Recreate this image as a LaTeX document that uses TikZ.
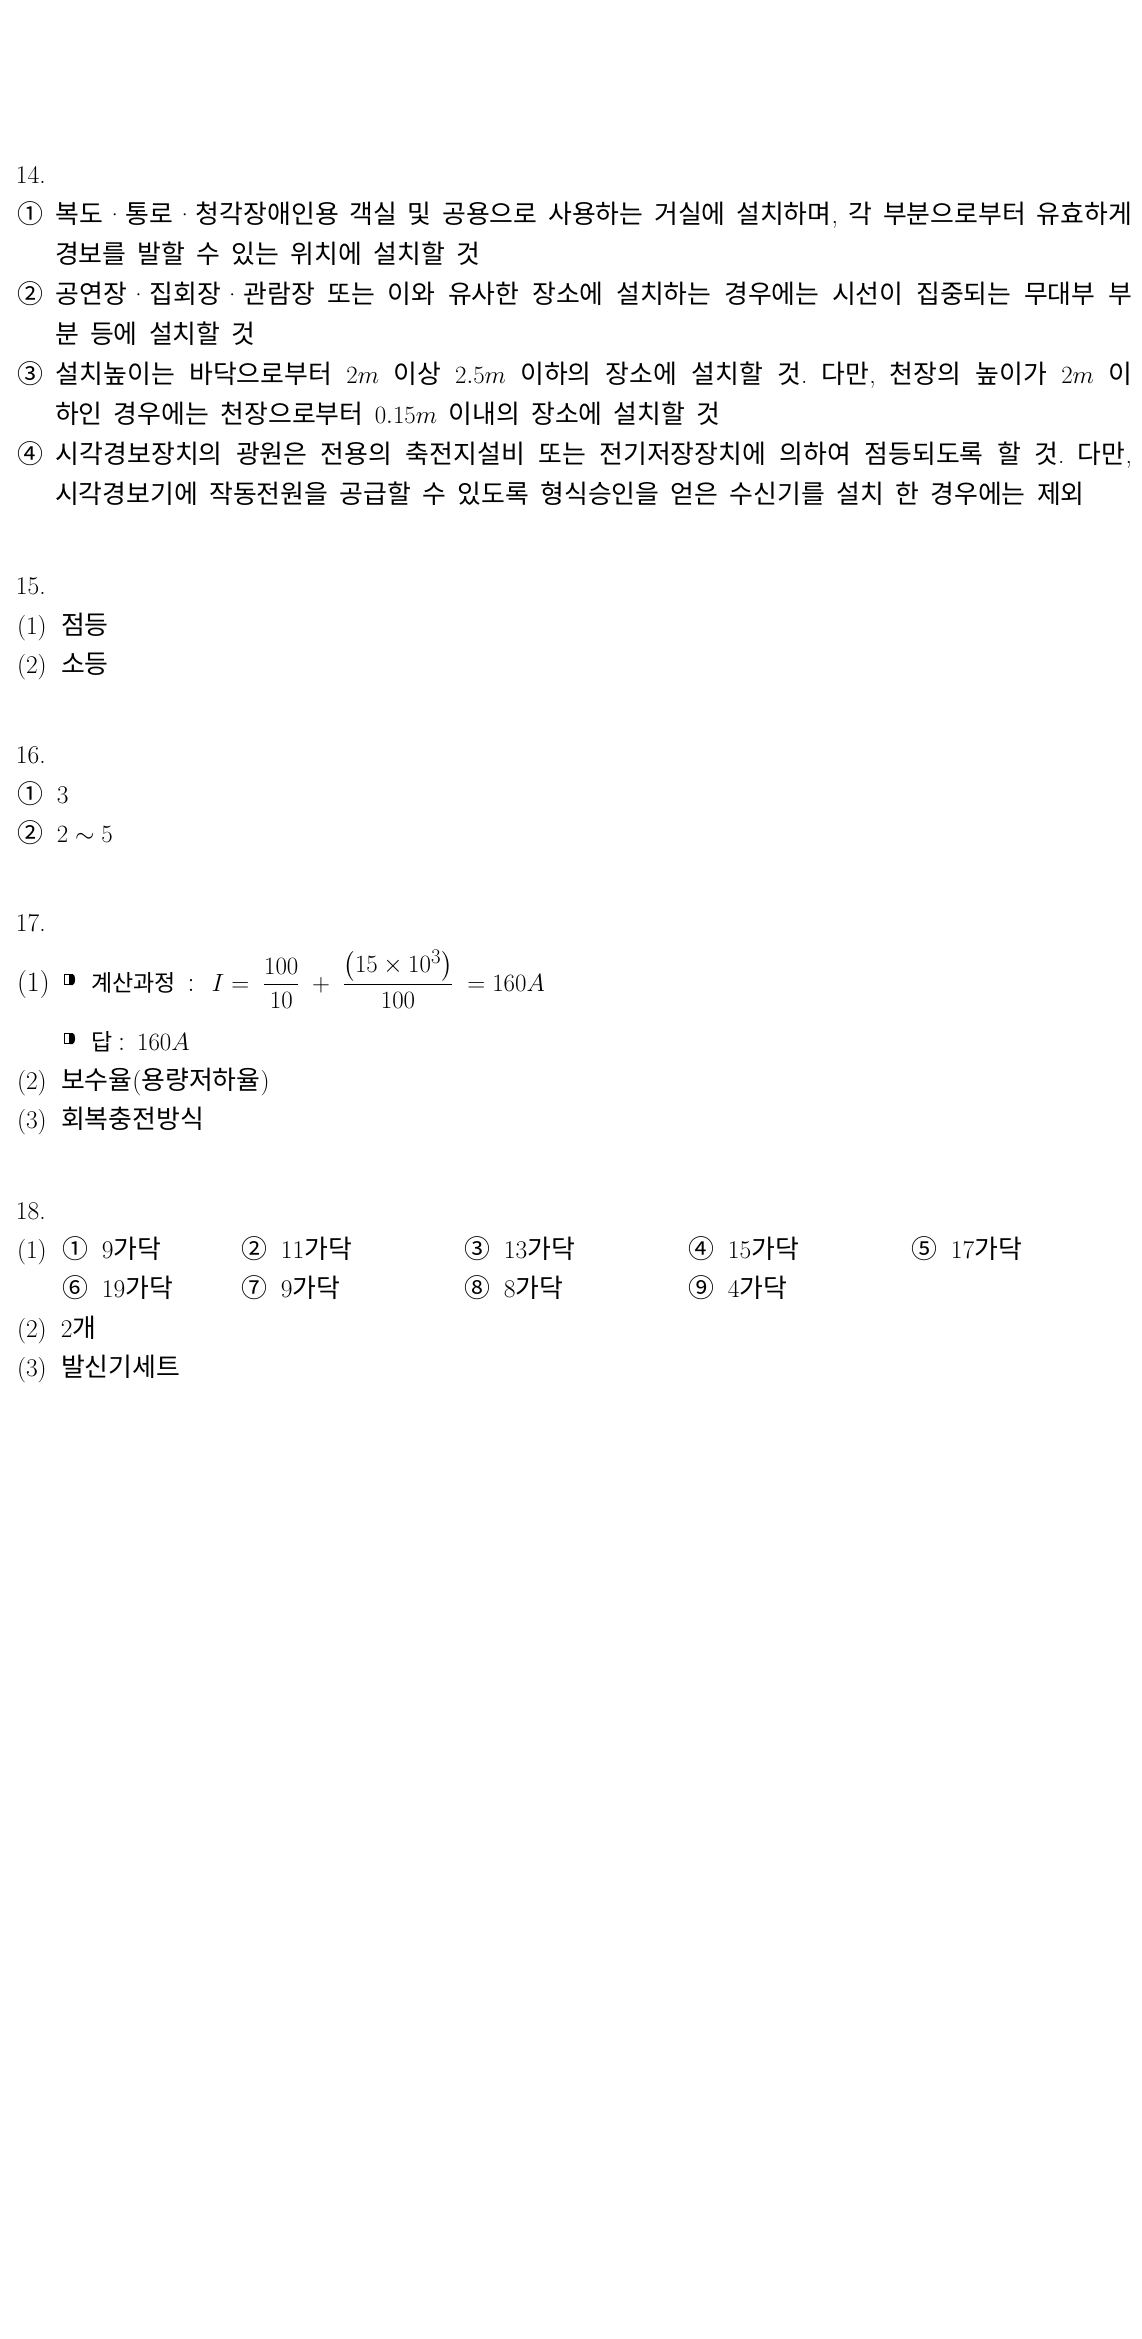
\documentclass[tikz,border=0pt]{standalone}
\usepackage{amsmath}
\usepackage{fontspec}
\newfontfamily\krfont{Noto Sans CJK KR}
\XeTeXinterchartokenstate=1
\newXeTeXintercharclass\KrClass
\makeatletter
\count@="AC00
\loop\XeTeXcharclass\count@=\KrClass\ifnum\count@<"D7A3 \advance\count@\@ne\repeat
\count@="2460
\loop\XeTeXcharclass\count@=\KrClass\ifnum\count@<"2473 \advance\count@\@ne\repeat
\makeatother
\newcommand\krsize{25.9}
\newcommand\krsel{\krfont\fontsize{\krsize}{30}\selectfont}
\XeTeXinterchartoks 0 \KrClass={\begingroup\krsel}
\XeTeXinterchartoks 4095 \KrClass={\begingroup\krsel}
\XeTeXinterchartoks \KrClass 0={\endgroup}
\XeTeXinterchartoks \KrClass 4095={\endgroup}
\newcommand\md{\kern2pt·\kern2pt}
\newcommand\cs{\hspace*{13pt}}
\newcommand\cw{\hspace*{14pt}}
\newcommand\lab[1]{\makebox[44pt][l]{#1}}
\newcommand\jl[1]{\makebox[1115pt][s]{#1}}
\newcommand\txtfont{\fontsize{25.5}{30}\selectfont\frenchspacing\spaceskip=11.3pt plus 8pt minus 3pt\relax}
\begin{document}
\begin{tikzpicture}[x=1pt,y=-1pt,
  txt/.style={anchor=base west,inner sep=0pt,outer sep=0pt,font=\txtfont},
  eqn/.style={txt,font=\txtfont\fontsize{28}{30}\selectfont\def\krsize{23}},
  bulbox/.style={line width=1.1pt},
  bulfill/.style={fill=black}]
\useasboundingbox[fill=white] (0,0) rectangle (1141,2339);
% 14
\node[txt] (h14) at (16,183) {14.};
\node[txt] (a1) at (17,223) {\jl{①\cs 복도\md 통로\md 청각장애인용 객실 및 공용으로 사용하는 거실에 설치하며, 각 부분으로부터 유효하게}};
\node[txt] (a1b) at (55,263) {경보를 발할 수 있는 위치에 설치할 것};
\node[txt] (a2) at (17,303) {\jl{②\cs 공연장\md 집회장\md 관람장 또는 이와 유사한 장소에 설치하는 경우에는 시선이 집중되는 무대부 부}};
\node[txt] (a2b) at (55,343) {분 등에 설치할 것};
\node[txt] (a3) at (17,383) {\jl{③\cs 설치높이는 바닥으로부터 $2m$ 이상 $2.5m$ 이하의 장소에 설치할 것. 다만, 천장의 높이가 $2m$ 이}};
\node[txt] (a3b) at (55,423) {하인 경우에는 천장으로부터 $0.15m$ 이내의 장소에 설치할 것};
\node[txt] (a4) at (17,463) {\jl{④\cs 시각경보장치의 광원은 전용의 축전지설비 또는 전기저장장치에 의하여 점등되도록 할 것. 다만,}};
\node[txt] (a4b) at (55,503) {시각경보기에 작동전원을 공급할 수 있도록 형식승인을 얻은 수신기를 설치 한 경우에는 제외};
% 15
\node[txt] (h15) at (16,594) {15.};
\node[txt] (b1) at (17,634) {\lab{(1)}점등};
\node[txt] (b2) at (17,673) {\lab{(2)}소등};
% 16
\node[txt] (h16) at (16,763) {16.};
\node[txt] (c1) at (17,803) {①\cw 3};
\node[txt] (c2) at (17,842) {②\cw $2\sim5$};
% 17
\node[txt] (h17) at (16,931) {17.};
\node[eqn] (d1) at (17,991) {\lab{(1)}\hspace*{30pt}계산과정\hspace{12pt}:\hspace{17pt}$I=\;\dfrac{100}{10}\;+\;\dfrac{\left(15\times10^3\right)}{100}\;=160A$};
\node[eqn] (d1b) at (64,1050) {\hspace*{27pt}답\hspace{6pt}:\hspace{12pt}$160A$};
\node[txt] (d2) at (17,1089) {\lab{(2)}보수율(용량저하율)};
\node[txt] (d3) at (17,1128) {\lab{(3)}회복충전방식};
% bullets of 17
\coordinate (u1) at (64,974);
\coordinate (u2) at (64,1033);
\foreach \u in {u1,u2}{
  \draw[bulbox] ([shift={(0.5,0.5)}]\u) rectangle ([shift={(6,10.5)}]\u);
  \fill[bulfill] ([shift={(6,0)}]\u) -- ([shift={(8.5,0)}]\u)
     .. controls ([shift={(12,0)}]\u) and ([shift={(12,11)}]\u) .. ([shift={(8.5,11)}]\u)
     -- ([shift={(6,11)}]\u) -- cycle;
}
% 18
\node[txt] (h18) at (16,1219) {18.};
\node[txt] (e0) at (17,1258) {(1)};
\node[txt] (e1) at (62,1258) {①\cw 9가닥};
\node[txt] (e2) at (241,1258) {②\cw 11가닥};
\node[txt] (e3) at (464,1258) {③\cw 13가닥};
\node[txt] (e4) at (688,1258) {④\cw 15가닥};
\node[txt] (e5) at (911,1258) {⑤\cw 17가닥};
\node[txt] (e6) at (62,1297) {⑥\cw 19가닥};
\node[txt] (e7) at (241,1297) {⑦\cw 9가닥};
\node[txt] (e8) at (464,1297) {⑧\cw 8가닥};
\node[txt] (e9) at (688,1297) {⑨\cw 4가닥};
\node[txt] (f2) at (17,1337) {\lab{(2)}2개};
\node[txt] (f3) at (17,1376) {\lab{(3)}발신기세트};
\end{tikzpicture}
\end{document}
